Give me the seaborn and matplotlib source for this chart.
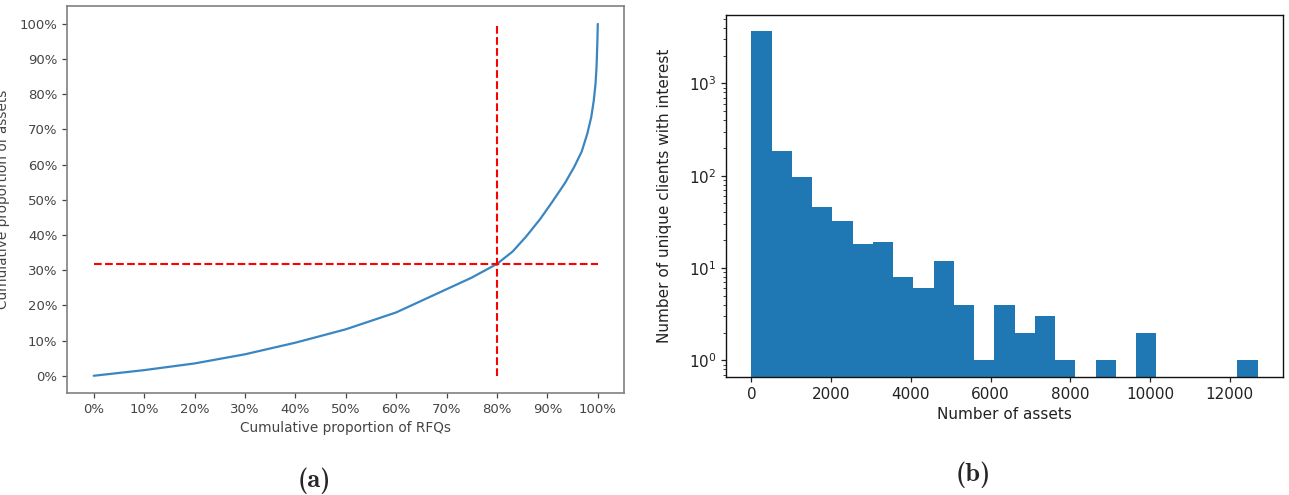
import matplotlib
matplotlib.use("Agg")
import matplotlib.pyplot as plt
import matplotlib.ticker as mticker
import numpy as np
import pandas as pd
import seaborn as sns

# (a) cumulative share of RFQs vs cumulative share of assets
rfq_share = [0.0, 0.10, 0.20, 0.30, 0.40, 0.50, 0.60, 0.70, 0.75, 0.80, 0.831,
             0.858, 0.886, 0.910, 0.935, 0.953, 0.968, 0.979, 0.987, 0.992,
             0.9955, 0.9975, 0.999, 1.0]
asset_share = [0.0, 0.016, 0.035, 0.061, 0.094, 0.132, 0.180, 0.246, 0.279, 0.318,
               0.353, 0.396, 0.446, 0.495, 0.548, 0.593, 0.637, 0.687, 0.735,
               0.782, 0.830, 0.877, 0.940, 1.0]
cut_rfq = 0.80
cut_asset = 0.318

# (b) histogram of number of assets per client (25 bins up to ~12700)
max_assets = 12700
bin_counts = [3660, 187, 96, 46, 32, 18, 19, 8, 6, 12, 4, 1, 4, 2, 3, 1,
              0, 1, 0, 2, 0, 0, 0, 0, 1]

edges = np.linspace(0, max_assets, len(bin_counts) + 1)
hist_df = pd.DataFrame({
    "assets": (edges[:-1] + edges[1:]) / 2,
    "clients": bin_counts,
})
hist_df = hist_df[hist_df["clients"] > 0]

sns.set_style("ticks")
plt.rcParams["font.family"] = ["DejaVu Sans"]

W, H = 1289, 495
fig = plt.figure(figsize=(W / 100, H / 100), dpi=100)
ax1 = fig.add_axes([67 / W, 1 - 393 / H, 557 / W, 387 / H])
ax2 = fig.add_axes([726 / W, 1 - 377 / H, 557 / W, 362 / H])

# ---- left panel
sns.lineplot(x=rfq_share, y=asset_share, ax=ax1, color="#3a86c2", lw=1.6,
             sort=False, estimator=None)
ax1.plot([cut_rfq, cut_rfq], [0, 1], color="red", ls="--", lw=1.5)
ax1.plot([0, 1], [cut_asset, cut_asset], color="red", ls="--", lw=1.5)
ax1.set_xlim(-0.053, 1.052)
ax1.set_ylim(-0.049, 1.051)
pct = mticker.PercentFormatter(xmax=1, decimals=0)
ax1.xaxis.set_major_formatter(pct)
ax1.yaxis.set_major_formatter(pct)
ax1.set_xticks(np.arange(0, 1.01, 0.1))
ax1.set_yticks(np.arange(0, 1.01, 0.1))
ax1.tick_params(labelsize=9.5, colors="#444444", length=3.5, width=0.9)
for s in ax1.spines.values():
    s.set_color("#808080")
    s.set_linewidth(1.2)
ax1.set_xlabel("Cumulative proportion of RFQs", fontsize=9.8, color="#444444")
ax1.set_ylabel("Cumulative proportion of assets", fontsize=9.8, color="#444444")
ax1.yaxis.set_label_coords(-0.102, 0.5)

# ---- right panel
sns.histplot(data=hist_df, x="assets", weights="clients", bins=list(edges), ax=ax2,
             color="#1f77b4", alpha=1, linewidth=0)
ax2.set_yscale("log")
ax2.set_xlim(-635, max_assets + 635)
ax2.set_ylim(0.66, 5500)
ax2.set_xticks(np.arange(0, 12001, 2000))
ax2.tick_params(labelsize=11, colors="#222222", length=3.5, width=0.9)
ax2.tick_params(which="minor", length=2, width=0.6, colors="#222222")
for s in ax2.spines.values():
    s.set_color("#111111")
    s.set_linewidth(1.0)
ax2.set_xlabel("Number of assets", fontsize=11, color="#222222")
ax2.set_ylabel("Number of unique clients with interest", fontsize=11, color="#222222")
ax2.yaxis.set_label_coords(-0.097, 0.5)

# ---- captions
cap_font = ["cmb10", "DejaVu Serif"]
fig.text(314 / W, 1 - 481 / H, "(a)", family=cap_font, fontsize=19,
         fontweight="bold", ha="center", va="center")
fig.text(973 / W, 1 - 475 / H, "(b)", family=cap_font, fontsize=19,
         fontweight="bold", ha="center", va="center")

fig.savefig("out.png", dpi=100)
